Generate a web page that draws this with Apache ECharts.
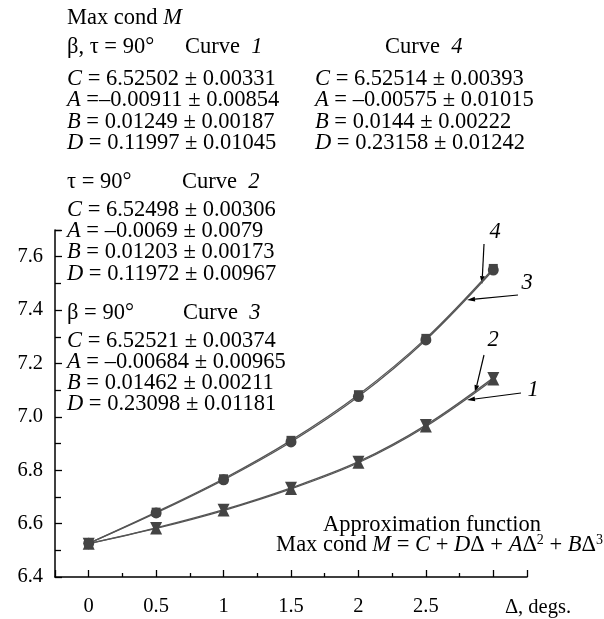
<!DOCTYPE html>
<html><head><meta charset="utf-8">
<script src="https://cdn.jsdelivr.net/npm/echarts@6/dist/echarts.min.js"></script>
<style>html,body{margin:0;padding:0;background:#fff}#c{width:604px;height:619px}</style>
</head><body><div id="c"></div><script>
// ---- data ----
const xValues = [0, 0.5, 1, 1.5, 2, 2.5, 3];
const curve1 = [6.525, 6.582, 6.649, 6.730, 6.828, 6.964, 7.140];
const curve2 = [6.525, 6.584, 6.652, 6.734, 6.832, 6.969, 7.146];
const curve3 = [6.526, 6.640, 6.764, 6.906, 7.076, 7.288, 7.550];
const curve4 = [6.526, 6.643, 6.768, 6.912, 7.083, 7.294, 7.556];
const xTickLabels = ['0', '0.5', '1', '1.5', '2', '2.5'];
const yTickLabels = ['6.4', '6.6', '6.8', '7.0', '7.2', '7.4', '7.6'];
const xAxisName = 'Δ, degs.';
const fit1 = ['{i|C} = 6.52502 ± 0.00331', '{i|A} =–0.00911 ± 0.00854', '{i|B} = 0.01249 ± 0.00187', '{i|D} = 0.11997 ± 0.01045'];
const fit4 = ['{i|C} = 6.52514 ± 0.00393', '{i|A} = –0.00575 ± 0.01015', '{i|B} = 0.0144 ± 0.00222', '{i|D} = 0.23158 ± 0.01242'];
const fit2 = ['{i|C} = 6.52498 ± 0.00306', '{i|A} = –0.0069 ± 0.0079', '{i|B} = 0.01203 ± 0.00173', '{i|D} = 0.11972 ± 0.00967'];
const fit3 = ['{i|C} = 6.52521 ± 0.00374', '{i|A} = –0.00684 ± 0.00965', '{i|B} = 0.01462 ± 0.00211', '{i|D} = 0.23098 ± 0.01181'];

const FONT = 'Liberation Serif';
const INK = '#000';
const TS = 22.5;

function txt(str, x, y, size, align) {
  size = size || TS;
  return {
    type: 'text', x: x, y: y, silent: true,
    style: {
      text: str, fontFamily: FONT, fontSize: size, fill: INK,
      align: align || 'left', verticalAlign: 'middle',
      rich: {
        i: { fontStyle: 'italic', fontFamily: FONT, fontSize: size, fill: INK },
        s: { fontFamily: FONT, fontSize: Math.round(size * 0.62), fill: INK, verticalAlign: 'top' }
      }
    }
  };
}
function arrow(x1, y1, x2, y2) {
  const dx = x2 - x1, dy = y2 - y1, L = Math.hypot(dx, dy), ux = dx / L, uy = dy / L;
  const hl = 8, hw = 2.4;
  const bx = x2 - ux * hl, by = y2 - uy * hl;
  return [
    { type: 'line', silent: true, shape: { x1: x1, y1: y1, x2: bx, y2: by }, style: { stroke: INK, lineWidth: 1.2 } },
    { type: 'polygon', silent: true, shape: { points: [[x2, y2], [bx - uy * hw, by + ux * hw], [bx + uy * hw, by - ux * hw]] }, style: { fill: INK } }
  ];
}
function block(lines, x, y0, step) {
  return lines.map((l, k) => txt(l, x, y0 + k * step));
}

const graphics = [].concat(
  [txt('Max cond {i|M}', 67, 18),
   txt('β, τ = 90°', 67, 47), txt('Curve  {i|1}', 185, 47),
   txt('Curve  {i|4}', 385, 47)],
  block(fit1, 67, 79, 21.4),
  block(fit4, 315, 79, 21.4),
  [txt('τ = 90°', 67, 182), txt('Curve  {i|2}', 182, 182)],
  block(fit2, 67, 210, 21.2),
  [txt('β = 90°', 67, 313), txt('Curve  {i|3}', 183, 313)],
  block(fit3, 67, 341, 21),
  [txt('Approximation function', 432, 525, TS, 'center'),
   txt('Max cond {i|M} = {i|C} + {i|D}Δ + {i|A}Δ{s|2} + {i|B}Δ{s|3}', 603, 545, TS, 'right')],
  [txt('{i|4}', 495, 232, TS, 'center'), txt('{i|3}', 527, 283, TS, 'center'),
   txt('{i|2}', 493, 340, TS, 'center'), txt('{i|1}', 533, 390, TS, 'center')],
  arrow(484, 244, 482, 284),
  arrow(518, 295, 467, 300),
  arrow(484, 355, 475, 393),
  arrow(521, 393, 467, 400)
);

function mk(name, data, symbol, size, rotate) {
  return {
    type: 'line', name: name,
    data: xValues.map((x, i) => [x, data[i]]),
    smooth: 0.35, symbol: symbol, symbolSize: size, symbolRotate: rotate || 0,
    showSymbol: true, silent: true,
    lineStyle: { color: '#555', width: 1.3 },
    itemStyle: { color: '#444', borderWidth: 0 },
    emphasis: { disabled: true }
  };
}

const chart = echarts.init(document.getElementById('c'), null, { renderer: 'canvas' });
chart.setOption({
  animation: false,
  backgroundColor: '#fff',
  grid: { left: 55, right: 77, top: 230, bottom: 42, containLabel: false, outerBoundsMode: 'none' },
  xAxis: {
    type: 'value', min: -0.25, max: 3.25, splitNumber: 7,
    axisLine: { onZero: false, lineStyle: { color: INK, width: 1.5 } },
    axisTick: { show: true, inside: true, length: 7, lineStyle: { color: INK, width: 1.3 } },
    minorTick: { show: true, splitNumber: 2, length: 4, lineStyle: { color: INK, width: 1.3 } },
    splitLine: { show: false }, minorSplitLine: { show: false },
    axisLabel: {
      margin: 19, fontFamily: FONT, fontSize: 20.5, color: INK,
      formatter: function (v) {
        const i = xValues.findIndex(x => Math.abs(x - v) < 1e-9);
        return (i >= 0 && i < xTickLabels.length) ? xTickLabels[i] : '';
      }
    },
    name: xAxisName, nameLocation: 'end', nameGap: 11,
    nameTextStyle: { fontFamily: FONT, fontSize: 20.5, color: INK, align: 'center', verticalAlign: 'top', padding: [20, 0, 0, 0] }
  },
  yAxis: {
    type: 'value', min: 6.4, max: 7.7, interval: 0.2,
    axisLine: { show: true, onZero: false, lineStyle: { color: INK, width: 1.5 } },
    axisTick: { show: true, inside: true, length: 7, lineStyle: { color: INK, width: 1.3 } },
    minorTick: { show: true, splitNumber: 2, length: 6, lineStyle: { color: INK, width: 1.3 } },
    splitLine: { show: false }, minorSplitLine: { show: false },
    axisLabel: {
      margin: 12, fontFamily: FONT, fontSize: 20.5, color: INK,
      formatter: function (v) {
        const k = (v - 6.4) / 0.2, r = Math.round(k);
        return (Math.abs(k - r) < 1e-6 && r >= 0 && r < yTickLabels.length) ? yTickLabels[r] : '';
      }
    }
  },
  series: [
    mk('Curve 1', curve1, 'triangle', 12, 0),
    mk('Curve 2', curve2, 'triangle', 12, 180),
    mk('Curve 3', curve3, 'circle', 11, 0),
    mk('Curve 4', curve4, 'rect', 9, 0)
  ],
  graphic: graphics
});
</script></body></html>
